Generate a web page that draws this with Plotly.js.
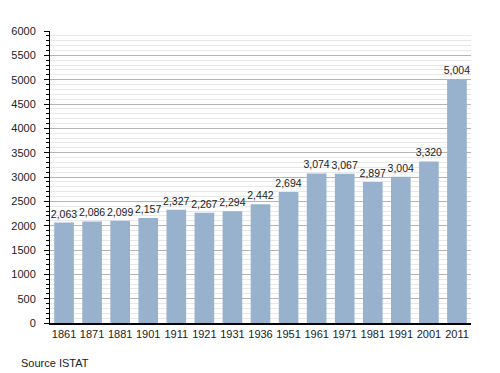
<!DOCTYPE html>
<html><head><meta charset="utf-8">
<script src="https://cdn.plot.ly/plotly-3.0.1.min.js"></script>
<style>body{margin:0;background:#fff}#c{width:500px;height:373px}</style>
</head><body><div id="c"></div>
<script>
const years = ['1861','1871','1881','1901','1911','1921','1931','1936','1951','1961','1971','1981','1991','2001','2011'];
const population = [2063,2086,2099,2157,2327,2267,2294,2442,2694,3074,3067,2897,3004,3320,5004];
const yTicks = [0,500,1000,1500,2000,2500,3000,3500,4000,4500,5000,5500,6000];

const font = {family:'Liberation Sans, Arial, sans-serif', size:11, color:'#222'};
Plotly.newPlot('c', [{
  type:'bar', x:years, y:population,
  marker:{color:'#98b1cc'},
  texttemplate:'%{y:,}', textposition:'outside', cliponaxis:false, constraintext:'none',
  textfont:{family:font.family, size:10.5, color:'#222'},
  hoverinfo:'none'
}], {
  width:500, height:373,
  margin:{l:50, r:29, t:31, b:50},
  paper_bgcolor:'#fff', plot_bgcolor:'#fff',
  font:font, showlegend:false, bargap:0.3,
  xaxis:{type:'category', showline:true, linecolor:'#000', linewidth:1.5, ticks:'', showgrid:false, tickfont:font},
  yaxis:{range:[0,6000], tickvals:yTicks, ticktext:yTicks.map(String), showline:true, linecolor:'#000', linewidth:1,
    ticks:'outside', ticklen:5, tickcolor:'#000', ticklabelstandoff:6,
    gridcolor:'#b4b4b4', gridwidth:1, zeroline:false, tickfont:font,
    minor:{dtick:100, showgrid:true, gridcolor:'#e8e8e8', ticks:'outside', ticklen:3, tickcolor:'#000'}},
  annotations:[{text:'Source ISTAT', xref:'paper', yref:'paper', x:-0.07, y:-0.11, xanchor:'left', yanchor:'top', xshift:-2, showarrow:false, font:font}]
}, {staticPlot:true});
</script></body></html>
